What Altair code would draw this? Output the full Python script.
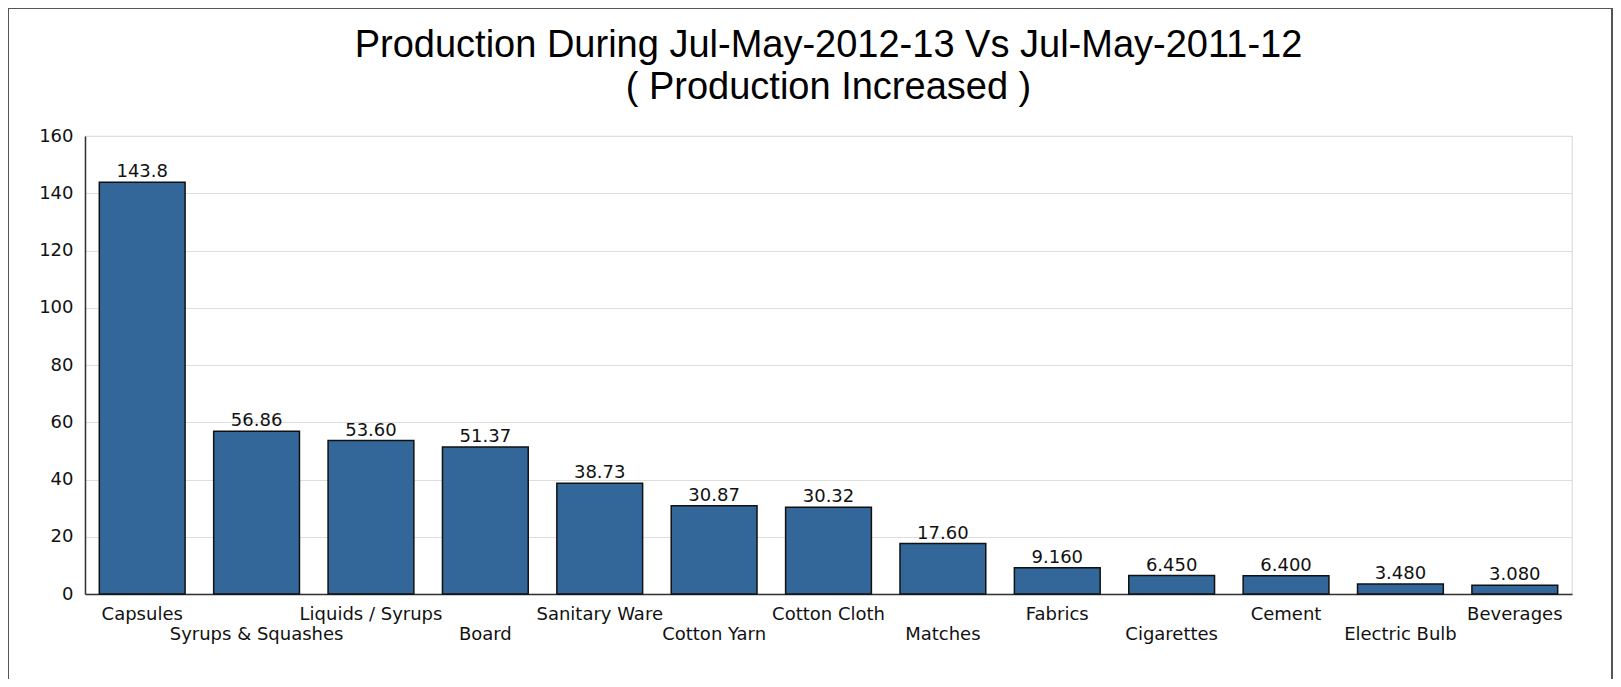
import altair as alt
import pandas as pd

categories = ["Capsules", "Syrups & Squashes", "Liquids / Syrups", "Board", "Sanitary Ware",
              "Cotton Yarn", "Cotton Cloth", "Matches", "Fabrics", "Cigarettes", "Cement",
              "Electric Bulb", "Beverages"]
values = [143.8, 56.86, 53.60, 51.37, 38.73, 30.87, 30.32, 17.60, 9.160, 6.450, 6.400, 3.480, 3.080]
y_ticks = [0, 20, 40, 60, 80, 100, 120, 140, 160]
title_lines = ["Production During Jul-May-2012-13 Vs Jul-May-2011-12", "( Production Increased )"]

df = pd.DataFrame({"category": categories, "value": values})

W, H = 1487, 458
LABEL_FONT = "DejaVu Sans"

x_enc = alt.X("category:N", sort=categories,
              scale=alt.Scale(paddingInner=0.25, paddingOuter=0.125),
              axis=alt.Axis(title=None, ticks=False, labelAngle=0, labelPadding=11,
                            labelFont=LABEL_FONT, labelFontSize=18, labelColor="#111111",
                            labelOverlap=False, labelLimit=400, labelBaseline="top",
                            labelLineHeight=20,
                            labelExpr="round(datum.index*12) % 2 == 1 ? ['', datum.label] : datum.label",
                            domainColor="#333333", domainWidth=1.5, grid=False))
y_enc = alt.Y("value:Q", scale=alt.Scale(domain=[0, 160], nice=False),
              axis=alt.Axis(title=None, values=y_ticks, ticks=False, labelPadding=12,
                            labelFont=LABEL_FONT, labelFontSize=18, labelColor="#111111",
                            domainColor="#333333", domainWidth=1.5,
                            grid=True, gridColor="#dddddd", gridWidth=1.2))

bars = alt.Chart(df).mark_bar(color="#336699", stroke="#111111", strokeWidth=1.5).encode(
    x=x_enc, y=y_enc)

labels = alt.Chart(df).mark_text(font=LABEL_FONT, fontSize=18, color="#111111",
                                 baseline="alphabetic", dy=-5).encode(
    x=alt.X("category:N", sort=categories),
    y=alt.Y("value:Q"),
    text=alt.Text("value:Q", format=".4r"))

frame = alt.Chart(pd.DataFrame({"f": [0]})).mark_rect(
    fill=None, stroke="#555555", strokeWidth=2, clip=False).encode(
    x=alt.value(-77), x2=alt.value(W + 40), y=alt.value(-128), y2=alt.value(H + 120))

chart = alt.layer(frame, bars, labels).properties(
    width=W, height=H,
    autosize=alt.AutoSizeParams(type="none"),
    padding={"left": 77, "top": 128, "right": 41, "bottom": 85},
    title=alt.TitleParams(text=title_lines, font="Liberation Sans", fontSize=38,
                          fontWeight="normal", color="#000000", lineHeight=42,
                          anchor="middle", frame="group", baseline="bottom", offset=0, dy=138),
).configure_view(stroke="#dddddd", strokeWidth=1.2)

chart.save("out.html", embed_options={"renderer": "svg", "actions": False})
